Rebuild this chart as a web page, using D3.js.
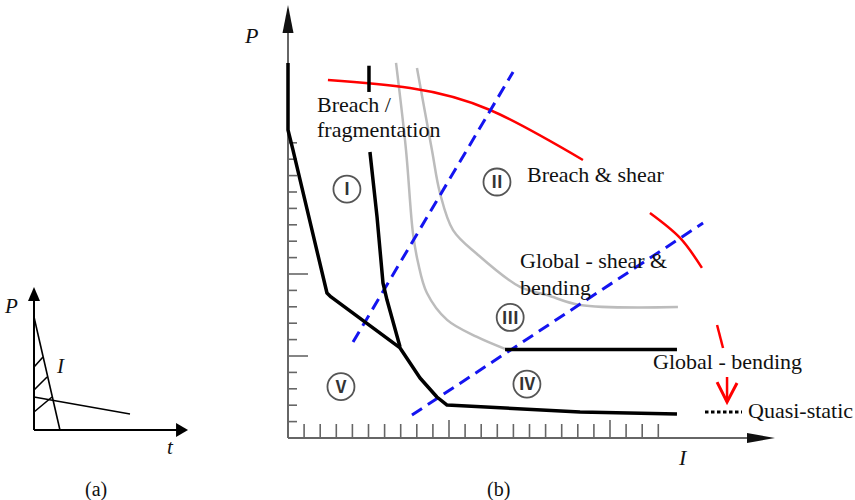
<!DOCTYPE html>
<html>
<head>
<meta charset="utf-8">
<script src="https://cdn.jsdelivr.net/npm/d3@7"></script>
<style>
  html, body { margin: 0; padding: 0; background: #fff; }
  svg { display: block; }
  text { font-family: "Liberation Serif", "Times New Roman", serif; fill: #111; }
</style>
</head>
<body>
<script>
// ---------- Panel (a): load pulse P(t) ----------
const pulseSteep   = [[0, 7.53], [1.73, 0]];
const pulseShallow = [[0, 2.2], [6.4, 1.07]];
const pulseHatch   = [
  [[0, 4.2], [0.6, 4.87]],
  [[0, 2.67], [0.87, 3.53]],
  [[0, 1.2], [1.2, 2.2]]
];

// ---------- Panel (b): P–I damage map ----------
const iTicks = d3.range(1, 24);
const pTicks = d3.range(1, 19);
const iMajor = [10, 20];
const pMajor = [5, 10];

// thick black boundaries
const boundaryLower = [[0, 22.87], [0, 18.78], [0.3, 17.6], [2.42, 8.84], [2.67, 8.60], [6.96, 5.49],
  [8.20, 3.66], [9.25, 2.50], [9.88, 2.01], [18.14, 1.59], [24.16, 1.46]];
const boundarySteep = [[5.09, 17.44], [5.53, 13.48], [5.90, 9.45], [6.15, 8.41], [6.96, 5.55]];
const boundaryTick  = [[5.03, 22.7], [5.03, 21.1]];
const boundaryFlat  = [[13.48, 5.40], [24.16, 5.40]];

// grey iso-damage curves
const isoInner = [[6.71, 22.87], [7.33, 17.56], [7.76, 12.50], [8.07, 10.73], [8.63, 8.84],
  [9.88, 7.20], [11.74, 6.16], [13.48, 5.43]];
const isoOuter = [[8.01, 22.56], [8.94, 17.56], [9.44, 14.94], [10.25, 12.68], [11.74, 11.22],
  [14.41, 9.21], [16.09, 8.72], [18.14, 8.11], [24.22, 7.99]];

// red transition arc (broken)
const redArcA = [[2.48, 21.83], [7.58, 21.34], [12.55, 20.0], [18.32, 16.95]];
const redArcB = [[22.48, 13.72], [24.35, 12.20], [25.71, 10.37]];
const redArcC = [[26.65, 6.89], [27.02, 5.49]];
const redArrowShaft = [[27.27, 3.72], [27.27, 2.2]];
const redArrowHead  = [[26.65, 3.41], [27.27, 2.2], [27.89, 3.35]];

// blue dashed asymptote lines
const blueLines = [
  [[4.04, 5.85], [13.98, 22.32]],
  [[7.70, 1.40], [25.78, 13.11]]
];

// region markers
const regions = [
  { label: "Ⅰ", at: [3.66, 15.18] },
  { label: "Ⅱ", at: [12.98, 15.61] },
  { label: "Ⅲ", at: [13.80, 7.35] },
  { label: "Ⅳ", at: [14.84, 3.29] },
  { label: "Ⅴ", at: [3.29, 3.13] }
];

const svg = d3.select("body").append("svg")
  .attr("width", 855).attr("height", 500);

// ================= Panel (a) =================
const ta = d3.scaleLinear().domain([0, 10]).range([34, 184]);
const pa = d3.scaleLinear().domain([0, 10]).range([430, 280]);
const lineA = d3.line().x(d => ta(d[0])).y(d => pa(d[1]));
const gA = svg.append("g");

gA.append("line").attr("x1", ta(0)).attr("y1", pa(0)).attr("x2", ta(9.6)).attr("y2", pa(0))
  .attr("stroke", "#000").attr("stroke-width", 2);
gA.append("line").attr("x1", ta(0)).attr("y1", pa(0)).attr("x2", ta(0)).attr("y2", pa(8.9))
  .attr("stroke", "#000").attr("stroke-width", 2);
gA.append("path")
  .attr("d", `M${ta(10.27)},${pa(0)} L${ta(10.27) - 12},${pa(0) - 7} L${ta(10.27) - 12},${pa(0) + 7} Z`)
  .attr("fill", "#000");
gA.append("path")
  .attr("d", `M${ta(0)},${pa(9.53)} L${ta(0) - 6},${pa(9.53) + 14} L${ta(0) + 6},${pa(9.53) + 14} Z`)
  .attr("fill", "#000");

[pulseSteep, pulseShallow, ...pulseHatch].forEach(seg => {
  gA.append("path").attr("d", lineA(seg)).attr("fill", "none")
    .attr("stroke", "#000").attr("stroke-width", 1.6);
});

gA.append("text").attr("x", 5).attr("y", 313).attr("font-size", 21).attr("font-style", "italic").text("P");
gA.append("text").attr("x", 57).attr("y", 373).attr("font-size", 21).attr("font-style", "italic").text("I");
gA.append("text").attr("x", 167).attr("y", 454).attr("font-size", 21).attr("font-style", "italic").text("t");
gA.append("text").attr("x", 85).attr("y", 496).attr("font-size", 20).text("(a)");

// ================= Panel (b) =================
const x = d3.scaleLinear().domain([0, 30]).range([288, 288 + 30 * 16.1]);
const y = d3.scaleLinear().domain([0, 26]).range([438, 438 - 26 * 16.4]);
const line = d3.line().x(d => x(d[0])).y(d => y(d[1]));
const smooth = d3.line().x(d => x(d[0])).y(d => y(d[1])).curve(d3.curveCatmullRom.alpha(0.5));
const arc = d3.line().x(d => x(d[0])).y(d => y(d[1])).curve(d3.curveNatural);
const gB = svg.append("g");

// axes
const axisColor = "#666";
gB.append("line").attr("x1", x(0)).attr("y1", y(0)).attr("x2", x(28.6)).attr("y2", y(0))
  .attr("stroke", axisColor).attr("stroke-width", 2);
gB.append("line").attr("x1", x(0)).attr("y1", y(0)).attr("x2", x(0)).attr("y2", y(25))
  .attr("stroke", axisColor).attr("stroke-width", 2);
const xTip = x(30.25);
gB.append("path")
  .attr("d", `M${xTip},${y(0)} L${xTip - 28},${y(0) - 5} L${xTip - 28},${y(0) + 5} Z`)
  .attr("fill", "#111");
const yTip = y(26.4);
gB.append("path")
  .attr("d", `M${x(0)},${yTip} L${x(0) - 5.5},${yTip + 28} L${x(0) + 5.5},${yTip + 28} Z`)
  .attr("fill", "#111");

gB.selectAll(".itick").data(iTicks).join("line")
  .attr("x1", d => x(d)).attr("x2", d => x(d))
  .attr("y1", y(0)).attr("y2", d => y(0) - (iMajor.includes(d) ? 18 : 14))
  .attr("stroke", axisColor).attr("stroke-width", 1.6);
gB.selectAll(".ptick").data(pTicks).join("line")
  .attr("y1", d => y(d)).attr("y2", d => y(d))
  .attr("x1", x(0)).attr("x2", d => x(0) + (pMajor.includes(d) ? 20 : 9))
  .attr("stroke", axisColor).attr("stroke-width", 1.6);

// grey curves
[isoInner, isoOuter].forEach(c => {
  gB.append("path").attr("d", smooth(c)).attr("fill", "none")
    .attr("stroke", "#bcbcbc").attr("stroke-width", 2.5);
});

// red arcs
[redArcA, redArcB, redArcC].forEach(c => {
  gB.append("path").attr("d", arc(c)).attr("fill", "none")
    .attr("stroke", "#f00").attr("stroke-width", 2.5);
});
gB.append("path").attr("d", line(redArrowShaft)).attr("fill", "none")
  .attr("stroke", "#f00").attr("stroke-width", 2.5);
gB.append("path").attr("d", line(redArrowHead)).attr("fill", "none")
  .attr("stroke", "#f00").attr("stroke-width", 3);

// blue dashed lines
blueLines.forEach(c => {
  gB.append("path").attr("d", line(c)).attr("fill", "none")
    .attr("stroke", "#1414f0").attr("stroke-width", 3)
    .attr("stroke-dasharray", "12,7");
});

// black boundaries
[boundaryLower, boundarySteep, boundaryTick, boundaryFlat].forEach(c => {
  gB.append("path").attr("d", line(c)).attr("fill", "none")
    .attr("stroke", "#000").attr("stroke-width", 3.5)
    .attr("stroke-linejoin", "round");
});

// region markers
const reg = gB.selectAll(".region").data(regions).join("g")
  .attr("transform", d => `translate(${x(d.at[0])},${y(d.at[1])})`);
reg.append("circle").attr("r", 13.5).attr("fill", "#fff")
  .attr("stroke", "#555").attr("stroke-width", 1.8);
reg.append("text").attr("text-anchor", "middle").attr("dy", "0.36em")
  .attr("font-size", 17).attr("font-weight", "bold")
  .style("font-family", "'Noto Sans CJK SC', serif")
  .style("fill", "#333").text(d => d.label);

// annotations
const fs = 22;
gB.append("text").attr("x", 317).attr("y", 112).attr("font-size", fs).text("Breach /");
gB.append("text").attr("x", 317).attr("y", 137).attr("font-size", fs).text("fragmentation");
gB.append("text").attr("x", 527).attr("y", 182).attr("font-size", fs).text("Breach & shear");
gB.append("text").attr("x", 520).attr("y", 268).attr("font-size", fs).text("Global - shear &");
gB.append("text").attr("x", 520).attr("y", 295).attr("font-size", fs).text("bending");
gB.append("text").attr("x", 653).attr("y", 369).attr("font-size", fs).text("Global - bending");
gB.append("line").attr("x1", 705).attr("x2", 742).attr("y1", 412).attr("y2", 412)
  .attr("stroke", "#000").attr("stroke-width", 3).attr("stroke-dasharray", "3.5,2.5");
gB.append("text").attr("x", 748).attr("y", 418).attr("font-size", fs).text("Quasi-static");

gB.append("text").attr("x", 245).attr("y", 43).attr("font-size", 22).attr("font-style", "italic").text("P");
gB.append("text").attr("x", 679).attr("y", 465).attr("font-size", 22).attr("font-style", "italic").text("I");
gB.append("text").attr("x", 487).attr("y", 496).attr("font-size", 20).text("(b)");
</script>
</body>
</html>
